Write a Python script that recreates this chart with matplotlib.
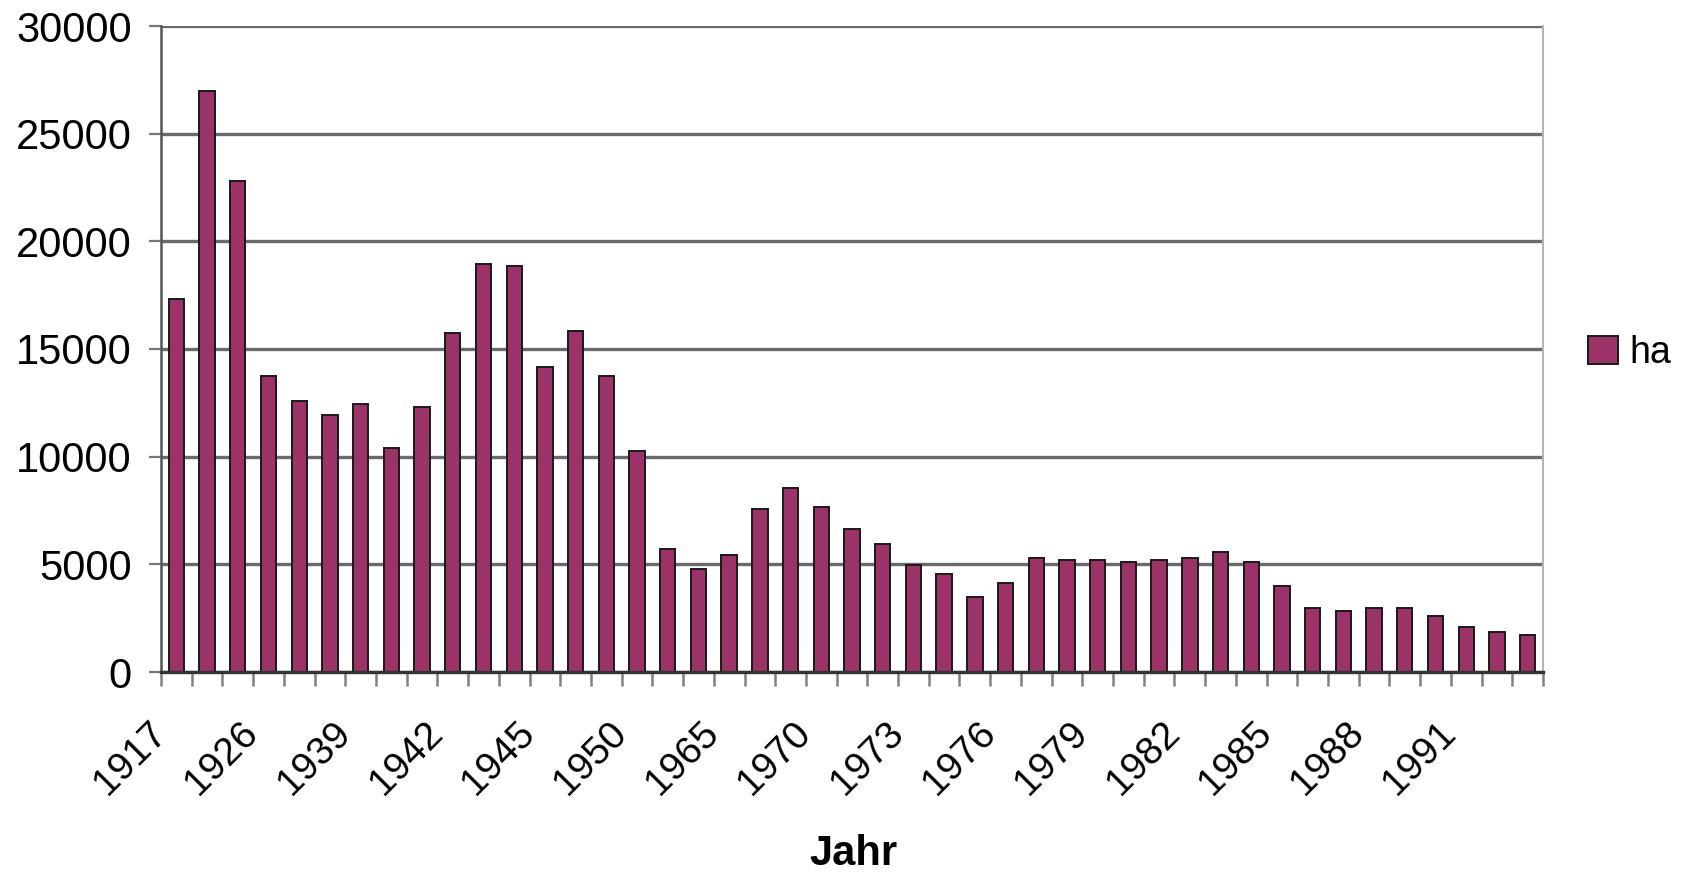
"""Jahr vs ha bar chart (Excel style)."""
import matplotlib
matplotlib.use('Agg')
import matplotlib.pyplot as plt
import matplotlib.transforms as mtransforms
import numpy as np

plt.rcParams['font.family'] = ['Liberation Sans', 'DejaVu Sans']

# Values (ha) per year
ha = [17300, 27000, 22800, 13750, 12600, 11950, 12450, 10400, 12300, 15750,
      18950, 18850, 14150, 15850, 13750, 10250, 5700, 4800, 5450, 7550,
      8550, 7650, 6650, 5950, 4950, 4550, 3500, 4150, 5300, 5200,
      5200, 5100, 5200, 5300, 5550, 5100, 4000, 2950, 2850, 2950,
      2950, 2600, 2100, 1850, 1700]
# Only every third year is labelled on the axis
year_labels = ['1917', '1926', '1939', '1942', '1945', '1950', '1965', '1970',
               '1973', '1976', '1979', '1982', '1985', '1988', '1991']
y_ticks = [0, 5000, 10000, 15000, 20000, 25000, 30000]

bar_color = '#9B3368'
grid_color = '#6a6a6a'

fig = plt.figure(figsize=(16.84, 8.76), dpi=100)
ax = fig.add_axes([161 / 1684, 1 - 672 / 876, (1543 - 161) / 1684, (672 - 26) / 876])

x = np.arange(len(ha))
ax.bar(x, ha, width=0.5, color=bar_color, edgecolor='#1a1a1a',
       linewidth=1.4, label='ha', zorder=3)

ax.set_xlim(-0.5, len(ha) - 0.5)
ax.set_ylim(0, 30000)

# y axis
ax.set_yticks(y_ticks)
ax.set_yticklabels([str(v) for v in y_ticks], fontsize=30)
ax.yaxis.grid(True, color=grid_color, linewidth=2.4, zorder=0)
ax.tick_params(axis='y', length=9, width=1.6, color='#777777', pad=12)

# x axis: labels every 3rd bar, tick marks at category boundaries
ax.set_xticks(x[::3])
ax.set_xticklabels(year_labels, fontsize=28, rotation=45, ha='right')
ax.set_xticks(np.arange(len(ha) + 1) - 0.5, minor=True)
ax.tick_params(axis='x', which='major', length=0, pad=31)
ax.tick_params(axis='x', which='minor', length=10, width=1.8, color='#808080')
shift = mtransforms.ScaledTranslation(-0.03, 0, fig.dpi_scale_trans)
for lbl in ax.get_xticklabels():
    lbl.set_transform(lbl.get_transform() + shift)

ax.spines['top'].set_visible(False)
ax.spines['left'].set_color('#555555')
ax.spines['left'].set_linewidth(1.8)
ax.spines['bottom'].set_color('#333333')
ax.spines['bottom'].set_linewidth(2.4)
ax.spines['bottom'].set_zorder(4)
ax.spines['right'].set_color('#b4b4b4')
ax.spines['right'].set_linewidth(1.5)

fig.text(853 / 1684, 1 - 865 / 876, 'Jahr', fontsize=30, fontweight='bold',
         ha='center', va='baseline')

ax.legend(loc='center left', bbox_to_anchor=(1588 / 1684, 1 - 353 / 876),
          bbox_transform=fig.transFigure, frameon=False, fontsize=27,
          handlelength=0.8, handleheight=0.8, handletextpad=0.3,
          borderpad=0, borderaxespad=0)

fig.savefig('out.png', dpi=100)
